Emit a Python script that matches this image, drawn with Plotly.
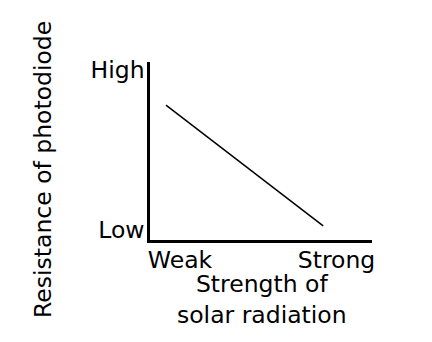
import plotly.graph_objects as go

# Data (normalized units: 0 = axis origin, 1 = axis end)
strength = [0.072, 0.78]          # solar radiation strength
resistance = [0.758, 0.079]       # photodiode resistance

x_tick_vals = [0.135, 0.84]
x_tick_text = ["Weak", "Strong"]
y_tick_vals = [0.056, 0.955]
y_tick_text = ["Low", "High"]

FONT = "DejaVu Sans"
FS = 23.5

fig = go.Figure()
fig.add_trace(go.Scatter(
    x=strength, y=resistance, mode="lines",
    line=dict(color="black", width=1.5), showlegend=False, hoverinfo="skip"))

fig.update_layout(
    width=432, height=342,
    margin=dict(l=150, r=60, t=62, b=102),
    paper_bgcolor="white", plot_bgcolor="white",
    font=dict(family=FONT, size=FS, color="black"),
    xaxis=dict(range=[0, 1], showgrid=False, zeroline=False,
               showline=True, linecolor="black", linewidth=2.5,
               tickvals=x_tick_vals, ticktext=x_tick_text, ticks="",
               ticklabelstandoff=-3,
               tickfont=dict(family=FONT, size=FS, color="black")),
    yaxis=dict(range=[0, 1], showgrid=False, zeroline=False,
               showline=True, linecolor="black", linewidth=2.5,
               tickvals=y_tick_vals, ticktext=y_tick_text, ticks="",
               ticklabelstandoff=-2,
               tickfont=dict(family=FONT, size=FS, color="black")),
    annotations=[
        dict(text="Strength of<br>solar radiation", xref="paper", yref="paper",
             x=0.505, y=-0.337, showarrow=False, xanchor="center", yanchor="middle",
             font=dict(family=FONT, size=FS, color="black")),
        dict(text="Resistance of photodiode", xref="paper", yref="paper",
             x=-0.482, y=0.399, showarrow=False, textangle=-90,
             xanchor="center", yanchor="middle",
             font=dict(family=FONT, size=FS, color="black")),
    ],
)

fig.write_html("out.html")
